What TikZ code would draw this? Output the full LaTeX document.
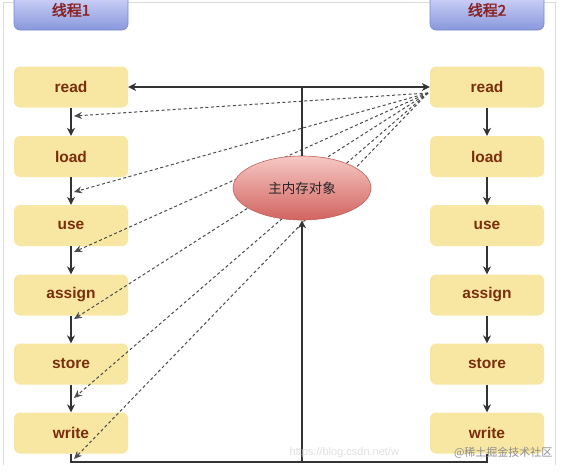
\documentclass[tikz,border=0pt]{standalone}
\usepackage{fontspec}
\setmainfont{Liberation Sans}
\newfontfamily\cjk[AutoFakeBold=2.5]{Noto Sans CJK SC}
\usetikzlibrary{arrows.meta,shapes.geometric}
\definecolor{boxfill}{HTML}{F8E7A2}
\definecolor{boxtext}{HTML}{7A2E0C}
\definecolor{headtext}{HTML}{8A2424}
\definecolor{frame}{HTML}{DADADA}
\tikzset{
  stepbox/.style={rectangle, rounded corners=6pt, fill=boxfill, minimum width=114pt, minimum height=41pt, inner sep=0pt, font=\fontsize{15.5}{17}\selectfont\bfseries, text=boxtext},
  headbox/.style={rectangle, rounded corners=6pt, top color=blue!12!white, bottom color={rgb,255:red,136;green,152;blue,220}, draw={rgb,255:red,120;green,136;blue,205}, line width=0.6pt, minimum width=114pt, minimum height=42pt, inner sep=0pt},
  headlabel/.style={font=\cjk\bfseries\fontsize{15}{16}\selectfont, text=headtext},
  memnode/.style={ellipse, top color={rgb,255:red,246;green,200;blue,196}, bottom color={rgb,255:red,210;green,100;blue,96}, draw={rgb,255:red,190;green,96;blue,92}, line width=0.6pt, minimum width=138pt, minimum height=64pt, inner sep=0pt, font=\cjk\fontsize{13.5}{15}\selectfont, text=black!85},
  arr/.style={-{Stealth[length=8pt,width=8pt]}, line width=1.2pt, black!80},
  plain/.style={line width=1.2pt, black!80},
  dasharr/.style={-{Stealth[length=8pt,width=7pt]}, dash pattern=on 3pt off 2.5pt, line width=1pt, black!70},
}
\begin{document}
\begin{tikzpicture}[x=1pt,y=-1pt]
\clip (0,0) rectangle (566,472);
\fill[white] (0,0) rectangle (566,472);
% frame
\draw[frame, line width=0.8pt] (3.5,465) -- (3.5,2) -- (555,2) -- (555,465);
% headers
\node[headbox] (h1) at (71,9) {};
\node[headlabel] (h1t) at (71,10) {线程1};
\node[headbox] (h2) at (487,9) {};
\node[headlabel] (h2t) at (487,10) {线程2};
% left column
\node[stepbox] (l1) at (71,87) {read};
\node[stepbox] (l2) at (71,156.5) {load};
\node[stepbox] (l3) at (71,225.5) {use};
\node[stepbox] (l4) at (71,295) {assign};
\node[stepbox] (l5) at (71,364) {store};
\node[stepbox] (l6) at (71,433) {write};
% right column
\node[stepbox] (r1) at (487,87) {read};
\node[stepbox] (r2) at (487,156.5) {load};
\node[stepbox] (r3) at (487,225.5) {use};
\node[stepbox] (r4) at (487,295) {assign};
\node[stepbox] (r5) at (487,364) {store};
\node[stepbox] (r6) at (487,433) {write};
% column arrows
\foreach \a/\b in {1/2,2/3,3/4,4/5,5/6}{
  \draw[arr] (l\a.south) -- (l\b.north);
  \draw[arr] (r\a.south) -- (r\b.north);
}
% dashed fan (drawn before the ellipse so that it hides them)
\coordinate (src) at (428,93);
\coordinate (d1) at (74,116);
\coordinate (d2) at (74,192);
\coordinate (d3) at (74,252);
\coordinate (d4) at (74,319);
\coordinate (d5) at (74,398);
\coordinate (d6) at (74,459);
\foreach \i in {1,...,6}{
  \draw[dasharr] (src) -- (d\i);
}
% memory
\node[memnode] (mem) at (302,188) {主内存对象};
% top connection
\coordinate (jt) at (302,87);
\coordinate (jb) at (302,462);
\draw[plain] (mem.north) -- (jt);
\draw[arr] (jt) -- (l1.east);
\draw[arr] (jt) -- (r1.west);
% bottom connection
\draw[plain] (l6.south) |- (jb) -| (r6.south);
\draw[arr] (jb) -- (mem.south);
% watermark
\node[font=\fontsize{11}{12}\selectfont, text=black!12, anchor=west] (wm1) at (286,453) {https://blog.csdn.net/w};
\node[font=\cjk\fontsize{11}{12}\selectfont, text=black!45, anchor=east] (wm2) at (556,453) {@稀土掘金技术社区};
\end{tikzpicture}
\end{document}
